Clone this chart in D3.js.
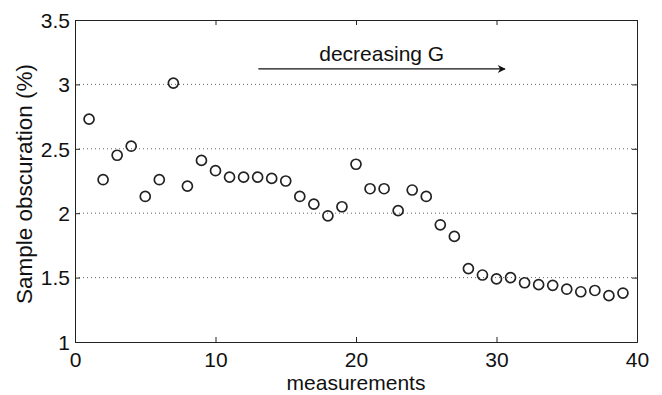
<!DOCTYPE html>
<html>
<head>
<meta charset="utf-8">
<script src="https://cdn.jsdelivr.net/npm/d3@7"></script>
<style>
  body { margin: 0; background: #fff; }
  svg text { font-family: Arial, "Liberation Sans", sans-serif; fill: #111; }
</style>
</head>
<body>
<svg id="chart" width="662" height="395"></svg>
<script>
// measurement index 1..39
const measurements = d3.range(1, 40);
// sample obscuration (%)
const obscuration = [2.73, 2.26, 2.45, 2.52, 2.13, 2.26, 3.01, 2.21, 2.41, 2.33,
                     2.28, 2.28, 2.28, 2.27, 2.25, 2.13, 2.07, 1.98, 2.05, 2.38,
                     2.19, 2.19, 2.02, 2.18, 2.13, 1.91, 1.82, 1.57, 1.52, 1.49,
                     1.50, 1.46, 1.445, 1.44, 1.41, 1.39, 1.40, 1.36, 1.38];
const xTicks = [0, 10, 20, 30, 40];
const yTicks = [1, 1.5, 2, 2.5, 3, 3.5];
const gridValues = [1.5, 2, 2.5, 3];
// annotation arrow (data units)
const arrowFrom = [13.05, 3.12];
const arrowTo = [30.6, 3.12];
const arrowLabel = "decreasing G";

const margin = { left: 75, right: 25, top: 20, bottom: 53 };
const width = 662, height = 395;
const svg = d3.select("#chart");

const x = d3.scaleLinear().domain([0, 40]).range([margin.left, width - margin.right]);
const y = d3.scaleLinear().domain([1, 3.5]).range([height - margin.bottom, margin.top]);

// dotted grid lines
svg.append("g")
    .selectAll("line")
    .data(gridValues)
    .enter().append("line")
    .attr("x1", x(0)).attr("x2", x(40))
    .attr("y1", d => y(d)).attr("y2", d => y(d))
    .attr("stroke", "#666")
    .attr("stroke-width", 1)
    .attr("stroke-dasharray", "1,3");

// axes with inward ticks
const bottomAxis = d3.axisBottom(x).tickValues(xTicks).tickSize(-5).tickPadding(10);
const leftAxis = d3.axisLeft(y).tickValues(yTicks).tickSize(-5).tickPadding(5).tickFormat(d3.format("~g"));

const gx = svg.append("g").attr("transform", `translate(0,${y(1)})`).call(bottomAxis);
const gy = svg.append("g").attr("transform", `translate(${x(0)},0)`).call(leftAxis);
svg.append("g").attr("transform", `translate(0,${y(3.5)})`)
    .call(d3.axisTop(x).tickValues(xTicks).tickSize(-5).tickFormat(""));
svg.append("g").attr("transform", `translate(${x(40)},0)`)
    .call(d3.axisRight(y).tickValues(yTicks).tickSize(-5).tickFormat(""));

svg.selectAll(".domain").attr("stroke", "#222");
svg.selectAll(".tick line").attr("stroke", "#222");
gx.selectAll("text").style("font-size", "21px").attr("fill", "#111");
gy.selectAll("text").style("font-size", "21px").attr("fill", "#111").attr("dy", "0.35em");

// data points
svg.append("g")
    .selectAll("circle")
    .data(measurements)
    .enter().append("circle")
    .attr("cx", d => x(d))
    .attr("cy", (d, i) => y(obscuration[i]))
    .attr("r", 5)
    .attr("fill", "none")
    .attr("stroke", "#222")
    .attr("stroke-width", 1.7);

// axis labels
svg.append("text")
    .attr("x", x(20)).attr("y", 390)
    .attr("text-anchor", "middle")
    .style("font-size", "21px")
    .text("measurements");

svg.append("text")
    .attr("transform", `translate(32,${(y(1) + y(3.5)) / 2 + 3}) rotate(-90)`)
    .attr("text-anchor", "middle")
    .style("font-size", "22.5px")
    .text("Sample obscuration (%)");

// arrow annotation
svg.append("defs").append("marker")
    .attr("id", "head")
    .attr("viewBox", "0 0 10 10")
    .attr("refX", 9).attr("refY", 5)
    .attr("markerWidth", 12).attr("markerHeight", 8)
    .attr("markerUnits", "userSpaceOnUse")
    .attr("orient", "auto")
    .append("path")
    .attr("d", "M0,0 L10,5 L0,10 L3,5 Z")
    .attr("fill", "#111");

svg.append("line")
    .attr("x1", x(arrowFrom[0])).attr("y1", y(arrowFrom[1]))
    .attr("x2", x(arrowTo[0])).attr("y2", y(arrowTo[1]))
    .attr("stroke", "#111")
    .attr("stroke-width", 1.2)
    .attr("marker-end", "url(#head)");

svg.append("text")
    .attr("x", x(21.83)).attr("y", y(3.18))
    .attr("text-anchor", "middle")
    .style("font-size", "21px")
    .text(arrowLabel);
</script>
</body>
</html>
